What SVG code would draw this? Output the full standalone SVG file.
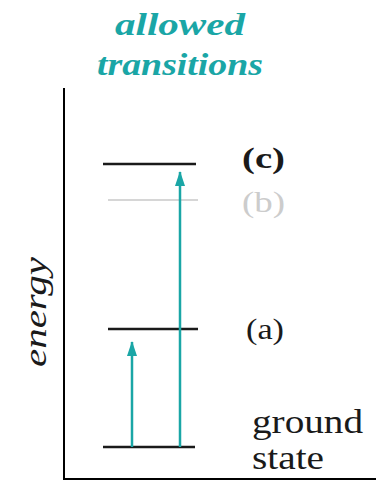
<svg xmlns="http://www.w3.org/2000/svg" width="376" height="480" viewBox="0 0 376 480">
<defs>
<style>
.axis{stroke:#000;stroke-width:2;fill:none}
.lvl{stroke:#1a1a1a;stroke-width:2.5}
.lvlb{stroke:#c8c8c8;stroke-width:1.5}
.tr{stroke:#1aa6a6;stroke-width:2.5;fill:none}
.sf{font-family:"Liberation Serif","Noto Serif","DejaVu Serif",FreeSerif,"Nimbus Roman",Tinos,Georgia,"Times New Roman",serif}
.lbl{fill:#1a1a1a}
.title{font-style:italic;font-weight:bold;fill:#1aa6a6;font-size:31px}
</style>
<marker id="ah" viewBox="0 0 15 10" refX="14" refY="5" markerWidth="15" markerHeight="10" markerUnits="userSpaceOnUse" orient="auto">
<path d="M0 0 L15 5 L0 10 Z" fill="#1aa6a6"/>
</marker>
</defs>
<rect width="376" height="480" fill="#fff"/>
<g id="title">
<text class="title sf" x="115" y="35" textLength="130" lengthAdjust="spacingAndGlyphs">allowed</text>
<text class="title sf" x="97" y="75" textLength="166" lengthAdjust="spacingAndGlyphs">transitions</text>
</g>
<g id="axes">
<path class="axis" d="M64 88 V479 H376"/>
<text class="lbl sf" font-style="italic" font-size="31" transform="translate(46 367) rotate(-90)" textLength="110" lengthAdjust="spacingAndGlyphs">energy</text>
</g>
<g id="level-c">
<line class="lvl" x1="103" y1="164" x2="196" y2="164"/>
<text class="lbl sf" x="242" y="168" font-size="30" font-weight="bold" textLength="43" lengthAdjust="spacingAndGlyphs">(c)</text>
</g>
<g id="level-b">
<line class="lvlb" x1="108" y1="200" x2="198" y2="200"/>
<text class="sf" x="242" y="212" font-size="30" fill="#cccccc" textLength="43" lengthAdjust="spacingAndGlyphs">(b)</text>
</g>
<g id="level-a">
<line class="lvl" x1="108" y1="329" x2="198" y2="329"/>
<text class="lbl sf" x="246" y="339" font-size="30" textLength="38" lengthAdjust="spacingAndGlyphs">(a)</text>
</g>
<g id="ground">
<line class="lvl" x1="103" y1="447" x2="195" y2="447"/>
<text class="lbl sf" x="252" y="433" font-size="33" textLength="111" lengthAdjust="spacingAndGlyphs">ground</text>
<text class="lbl sf" x="252" y="469" font-size="33" textLength="72" lengthAdjust="spacingAndGlyphs">state</text>
</g>
<g id="connectors">
<line class="tr" x1="132" y1="447" x2="132" y2="342" marker-end="url(#ah)"/>
<line class="tr" x1="180" y1="447" x2="180" y2="172" marker-end="url(#ah)"/>
</g>
</svg>
